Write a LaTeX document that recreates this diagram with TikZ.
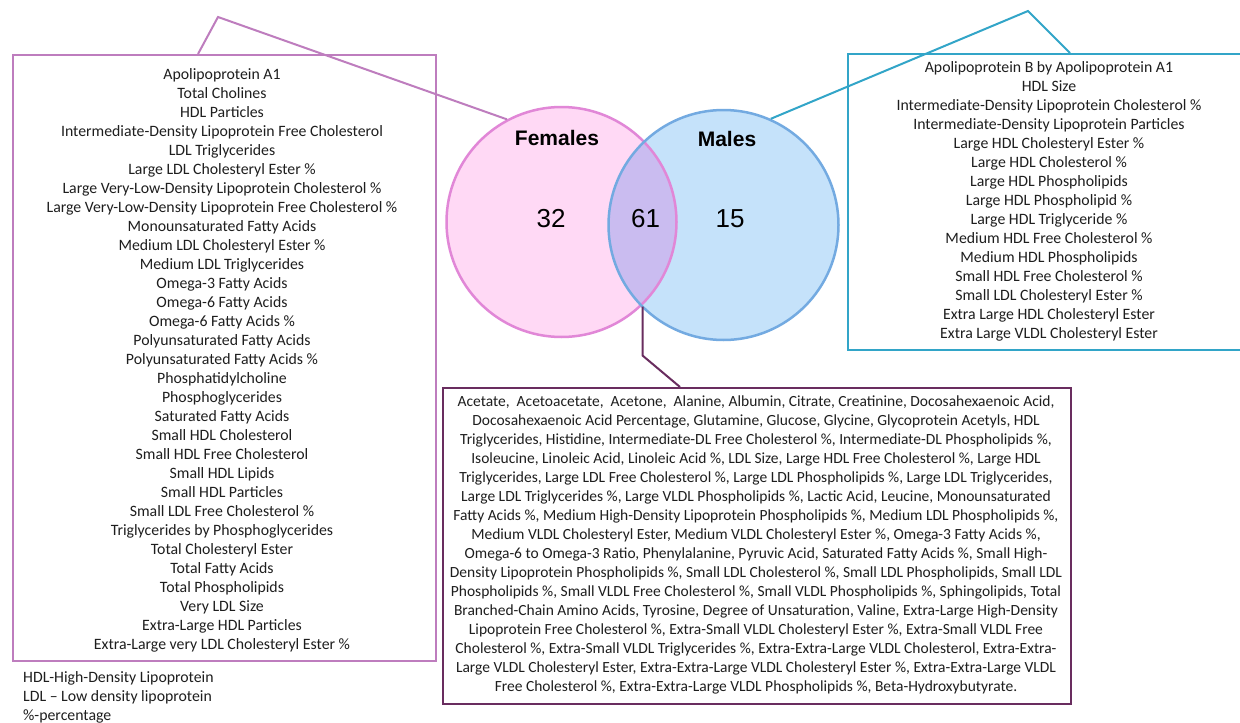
\documentclass[tikz,border=0pt]{standalone}
\usepackage{fontspec}
\setmainfont{Carlito}
\newfontfamily\arialfont{Liberation Sans}
\usetikzlibrary{calc}
\definecolor{lcol}{RGB}{190,125,190}
\definecolor{rcol}{RGB}{50,165,200}
\definecolor{bcol}{RGB}{105,45,95}
\definecolor{pinkfill}{RGB}{255,217,245}
\definecolor{pinkline}{RGB}{225,135,215}
\definecolor{bluefill}{RGB}{197,226,250}
\definecolor{blueline}{RGB}{115,170,225}
\definecolor{overlapfill}{RGB}{202,188,240}
\definecolor{txt}{RGB}{30,30,30}
\tikzset{
  listbox/.style={draw, line width=2pt, inner sep=0pt, anchor=north west},
  listtext/.style={align=center, inner sep=0pt, text=txt, font=\fontsize{15.8}{19}\selectfont},
  circfill/.style={circle, minimum size=230pt, inner sep=0pt},
  circline/.style={circle, minimum size=230pt, inner sep=0pt, line width=2.5pt},
  setlabel/.style={font=\arialfont\bfseries\fontsize{21}{25}\selectfont, text=black},
  countlabel/.style={font=\arialfont\fontsize{26}{30}\selectfont, text=black},
  callout/.style={line width=2pt}
}
\begin{document}
\begin{tikzpicture}[x=1pt,y=-1pt]
\useasboundingbox (0,0) rectangle (1240,723);
\clip (0,0) rectangle (1240,723);
\fill[white] (0,0) rectangle (1240,723);

% circles
\node[circfill, fill=pinkfill] (fem) at (561.5,222) {};
\node[circfill, fill=bluefill] (mal) at (723.5,225) {};
\begin{scope}
  \clip (fem.center) circle (115pt);
  \fill[overlapfill] (mal.center) circle (115pt);
\end{scope}
\node[circline, draw=pinkline] (femline) at (fem.center) {};
\node[circline, draw=blueline] (malline) at (mal.center) {};

\node[setlabel] (femlabel) at (557,138) {Females};
\node[setlabel] (mallabel) at (727,139) {Males};
\node[countlabel] (n32) at (551,219) {32};
\node[countlabel] (n61) at (645.5,219) {61};
\node[countlabel] (n15) at (730,219) {15};

% boxes
\node[listbox, draw=lcol, minimum width=423pt, minimum height=606pt] (lbox) at (12,54) {};
\node[listbox, draw=rcol, minimum width=420pt, minimum height=296pt] (rbox) at (847,53) {};
\node[listbox, draw=bcol, minimum width=628pt, minimum height=316pt] (bbox) at (442,387) {};

% callouts
\coordinate (lapex) at (218,17);
\coordinate (rapex) at (1028,11);
\draw[callout, lcol] ($(lbox.north west)+(186,0)$) -- (lapex) -- (femline.118);
\draw[callout, rcol] ($(rbox.north west)+(223,0)$) -- (rapex) -- (malline.66);
\coordinate (ibot) at ($(fem.center)!0.5!(mal.center)+(0,83)$);
\draw[callout, bcol] (ibot) -- ++(0,49) coordinate (bknee) -- ($(bbox.north west)+(238,0)$);

% texts
\node[listtext] (ltext) at (222,360.5) {Apolipoprotein A1\\
Total Cholines\\
HDL Particles\\
Intermediate-Density Lipoprotein Free Cholesterol\\
LDL Triglycerides\\
Large LDL Cholesteryl Ester \%\\
Large Very-Low-Density Lipoprotein Cholesterol \%\\
Large Very-Low-Density Lipoprotein Free Cholesterol \%\\
Monounsaturated Fatty Acids\\
Medium LDL Cholesteryl Ester \%\\
Medium LDL Triglycerides\\
Omega-3 Fatty Acids\\
Omega-6 Fatty Acids\\
Omega-6 Fatty Acids \%\\
Polyunsaturated Fatty Acids\\
Polyunsaturated Fatty Acids \%\\
Phosphatidylcholine\\
Phosphoglycerides\\
Saturated Fatty Acids\\
Small HDL Cholesterol\\
Small HDL Free Cholesterol\\
Small HDL Lipids\\
Small HDL Particles\\
Small LDL Free Cholesterol \%\\
Triglycerides by Phosphoglycerides\\
Total Cholesteryl Ester\\
Total Fatty Acids\\
Total Phospholipids\\
Very LDL Size\\
Extra-Large HDL Particles\\
Extra-Large very LDL Cholesteryl Ester \%};

\node[listtext] (rtext) at (1049,201.5) {Apolipoprotein B by Apolipoprotein A1\\
HDL Size\\
Intermediate-Density Lipoprotein Cholesterol \%\\
Intermediate-Density Lipoprotein Particles\\
Large HDL Cholesteryl Ester \%\\
Large HDL Cholesterol \%\\
Large HDL Phospholipids\\
Large HDL Phospholipid \%\\
Large HDL Triglyceride \%\\
Medium HDL Free Cholesterol \%\\
Medium HDL Phospholipids\\
Small HDL Free Cholesterol \%\\
Small LDL Cholesteryl Ester \%\\
Extra Large HDL Cholesteryl Ester\\
Extra Large VLDL Cholesteryl Ester};

\node[listtext, font=\fontsize{15.5}{19}\selectfont] (btext) at (756,545) {Acetate,\ \ Acetoacetate,\ \ Acetone,\ \ Alanine, Albumin, Citrate, Creatinine, Docosahexaenoic Acid,\\
Docosahexaenoic Acid Percentage, Glutamine, Glucose, Glycine, Glycoprotein Acetyls, HDL\\
Triglycerides, Histidine, Intermediate-DL Free Cholesterol \%, Intermediate-DL Phospholipids \%,\\
Isoleucine, Linoleic Acid, Linoleic Acid \%, LDL Size, Large HDL Free Cholesterol \%, Large HDL\\
Triglycerides, Large LDL Free Cholesterol \%, Large LDL Phospholipids \%, Large LDL Triglycerides,\\
Large LDL Triglycerides \%, Large VLDL Phospholipids \%, Lactic Acid, Leucine, Monounsaturated\\
Fatty Acids \%, Medium High-Density Lipoprotein Phospholipids \%, Medium LDL Phospholipids \%,\\
Medium VLDL Cholesteryl Ester, Medium VLDL Cholesteryl Ester \%, Omega-3 Fatty Acids \%,\\
Omega-6 to Omega-3 Ratio, Phenylalanine, Pyruvic Acid, Saturated Fatty Acids \%, Small High-\\
Density Lipoprotein Phospholipids \%, Small LDL Cholesterol \%, Small LDL Phospholipids, Small LDL\\
Phospholipids \%, Small VLDL Free Cholesterol \%, Small VLDL Phospholipids \%, Sphingolipids, Total\\
Branched-Chain Amino Acids, Tyrosine, Degree of Unsaturation, Valine, Extra-Large High-Density\\
Lipoprotein Free Cholesterol \%, Extra-Small VLDL Cholesteryl Ester \%, Extra-Small VLDL Free\\
Cholesterol \%, Extra-Small VLDL Triglycerides \%, Extra-Extra-Large VLDL Cholesterol, Extra-Extra-\\
Large VLDL Cholesteryl Ester, Extra-Extra-Large VLDL Cholesteryl Ester \%, Extra-Extra-Large VLDL\\
Free Cholesterol \%, Extra-Extra-Large VLDL Phospholipids \%, Beta-Hydroxybutyrate.};

\node[listtext, align=left, anchor=west] (legend) at (23,697) {HDL-High-Density Lipoprotein\\
LDL -- Low density lipoprotein\\
\%-percentage};
\end{tikzpicture}
\end{document}
